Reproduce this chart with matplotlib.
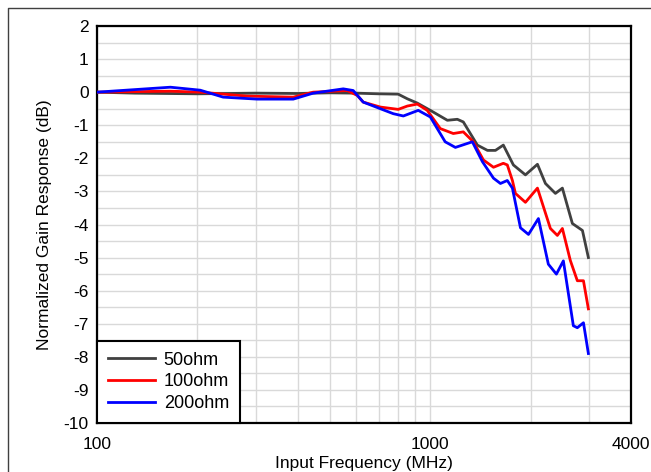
import matplotlib
matplotlib.use('Agg')
import matplotlib.pyplot as plt
from matplotlib.lines import Line2D

plt.rcParams['font.family'] = ['Liberation Sans', 'DejaVu Sans']
plt.rcParams['axes.unicode_minus'] = False

# frequency (MHz) / normalized gain (dB)
f_50 = [100, 130, 200, 300, 400, 500, 600, 700, 801, 853, 914, 1000, 1125, 1205, 1256,
        1384, 1484, 1568, 1656, 1775, 1929, 2096, 2215, 2373, 2490, 2668, 2860, 2980]
g_50 = [0, -0.03, -0.05, -0.03, -0.04, -0.02, -0.03, -0.05, -0.06, -0.2, -0.33, -0.55, -0.85, -0.82, -0.9,
        -1.6, -1.76, -1.76, -1.6, -2.2, -2.5, -2.18, -2.76, -3.06, -2.9, -3.97, -4.18, -5.0]

f_100 = [100, 166, 204, 282, 388, 445, 563, 604, 629, 708, 801, 853, 914, 979, 1071, 1172, 1256,
         1346, 1443, 1547, 1656, 1702, 1763, 1800, 1929, 2096, 2292, 2405, 2490, 2631, 2761, 2880, 2980]
g_100 = [0, 0.03, 0, -0.12, -0.15, 0.0, 0.05, -0.1, -0.3, -0.45, -0.52, -0.42, -0.36, -0.55, -1.1, -1.25, -1.2,
         -1.5, -2.05, -2.27, -2.15, -2.2, -2.67, -3.06, -3.33, -2.9, -4.12, -4.33, -4.12, -5.09, -5.7, -5.7, -6.55]

f_200 = [100, 166, 204, 239, 302, 388, 445, 548, 587, 629, 708, 774, 830, 920, 1000, 1108, 1189,
         1337, 1433, 1547, 1623, 1702, 1763, 1864, 1970, 2110, 2260, 2389, 2507, 2686, 2761, 2880, 2980]
g_200 = [0, 0.15, 0.06, -0.15, -0.21, -0.21, -0.03, 0.1, 0.05, -0.3, -0.5, -0.65, -0.72, -0.55, -0.75, -1.5, -1.67,
         -1.5, -2.1, -2.6, -2.76, -2.67, -2.9, -4.1, -4.3, -3.82, -5.2, -5.5, -5.1, -7.06, -7.12, -6.97, -7.9]

x_ticks = [100, 1000, 4000]
y_ticks = list(range(-10, 3))

fig = plt.figure(figsize=(6.51, 4.72), dpi=100)
ax = fig.add_axes([97/651, 1-423/472, (631-97)/651, (423-26)/472])

ax.plot(f_50, g_50, color='#404040', lw=2, label='50ohm', zorder=3)
ax.plot(f_100, g_100, color='#ff0000', lw=2, label='100ohm', zorder=3)
ax.plot(f_200, g_200, color='#0000ff', lw=2, label='200ohm', zorder=3)

ax.set_xscale('log')
ax.set_xlim(100, 4000)
ax.set_ylim(-10, 2)
ax.set_xticks(x_ticks)
ax.set_xticklabels([str(t) for t in x_ticks])
ax.set_xticks([200, 300, 400, 500, 600, 700, 800, 900, 2000, 3000], minor=True)
ax.set_yticks(y_ticks)
ax.set_yticks([v + 0.5 for v in range(-10, 2)], minor=True)
ax.grid(True, which='both', color='#d9d9d9', lw=1, zorder=0)
ax.tick_params(which='both', length=0, labelsize=12.5)
ax.tick_params(axis='y', pad=6)
ax.tick_params(axis='x', pad=10)
for s in ax.spines.values():
    s.set_linewidth(1.6)
    s.set_color('black')

ax.set_xlabel('Input Frequency (MHz)', fontsize=12.5, labelpad=3)
ax.set_ylabel('Normalized Gain Response (dB)', fontsize=12.5, labelpad=8)

leg = ax.legend(loc='lower left', bbox_to_anchor=(0, 0), borderaxespad=0, fontsize=13,
                fancybox=False, framealpha=1, edgecolor='black', handlelength=2.6,
                handletextpad=0.5, labelspacing=0.26, borderpad=0.6)
leg.get_frame().set_linewidth(1.5)

# outer border (left and top edges visible)
fig.add_artist(Line2D([8/651, 8/651, 1], [0, 1-8/472, 1-8/472], color='#404040', lw=1))

fig.savefig('out.png', dpi=100)
